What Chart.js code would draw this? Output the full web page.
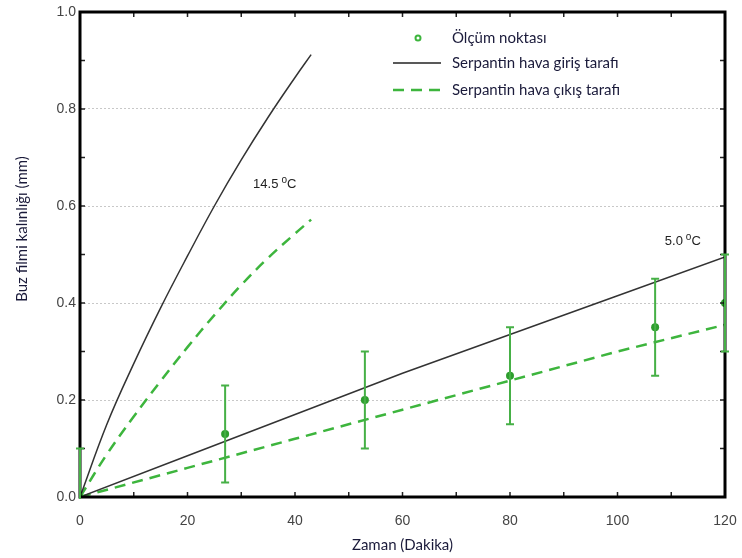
<!DOCTYPE html>
<html>
<head>
<meta charset="utf-8">
<script src="https://cdn.jsdelivr.net/npm/chart.js@4"></script>
<style>
  html, body { margin: 0; padding: 0; background: #fff; }
  #wrap { width: 742px; height: 558px; }
</style>
</head>
<body>
<div id="wrap"><canvas id="chart"></canvas></div>
<script>
// measured points with error bars
const measX = [0, 27, 53, 80, 107, 120];
const measY = [0, 0.13, 0.20, 0.25, 0.35, 0.40];
const measErr = [0.1, 0.1, 0.1, 0.1, 0.1, 0.1];

// 5.0 C model curves
const t5X = [0, 20, 40, 60, 80, 100, 120];
const t5In = [0, 0.085, 0.17, 0.255, 0.335, 0.415, 0.495];
const t5Out = [0, 0.06, 0.12, 0.18, 0.24, 0.30, 0.355];

// 14.5 C model curves
const t145X = [0, 5, 10, 15, 20, 25, 30, 35, 40, 43];
const t145In = [0, 0.15, 0.275, 0.39, 0.497, 0.60, 0.695, 0.783, 0.865, 0.912];
const t145Out = [0, 0.088, 0.166, 0.239, 0.309, 0.375, 0.437, 0.493, 0.543, 0.572];

const legendLabels = ['Ölçüm noktası', 'Serpantin hava giriş tarafı', 'Serpantin hava çıkış tarafı'];
const xTitle = 'Zaman (Dakika)';
const yTitle = 'Buz filmi kalınlığı (mm)';
const curveLabels = [
    {x: 32.2, y: 0.645, text: '14.5', unit: 'C'},
    {x: 108.8, y: 0.527, text: '5.0', unit: 'C'}
];

const GREEN = '#2e9e2e';
const GREEN_LINE = '#3db53d';
const TITLE_FONT = 'Lato, "Open Sans", sans-serif';
const TICK_FONT = '"Liberation Sans", Arial, sans-serif';

function pts(xs, ys) {
    return xs.map((x, i) => ({x: x, y: ys[i]}));
}

function drawErrorBars(chart) {
    const {ctx, chartArea, scales: {x, y}} = chart;
    ctx.save();
    ctx.beginPath();
    ctx.rect(0, chartArea.top - 2, chart.width, chartArea.height + 4);
    ctx.clip();
    ctx.strokeStyle = '#46b046';
    ctx.lineWidth = 2;
    measX.forEach((mx, i) => {
        const px = x.getPixelForValue(mx);
        const top = y.getPixelForValue(measY[i] + measErr[i]);
        const bot = y.getPixelForValue(measY[i] - measErr[i]);
        ctx.beginPath();
        ctx.moveTo(px, top); ctx.lineTo(px, bot);
        ctx.moveTo(px - 4, top); ctx.lineTo(px + 4, top);
        ctx.moveTo(px - 4, bot); ctx.lineTo(px + 4, bot);
        ctx.stroke();
    });
    ctx.restore();
}

const decorations = {
    id: 'decorations',
    afterDraw(chart) {
        const {ctx, chartArea: a, scales: {x, y}} = chart;
        ctx.save();

        // ticks pointing inward on all four sides
        ctx.strokeStyle = '#222';
        ctx.lineWidth = 1.5;
        for (let v = 10; v < 120; v += 10) {
            const px = x.getPixelForValue(v);
            ctx.beginPath();
            ctx.moveTo(px, a.bottom); ctx.lineTo(px, a.bottom - 5);
            ctx.moveTo(px, a.top); ctx.lineTo(px, a.top + 5);
            ctx.stroke();
        }
        for (let k = 1; k < 10; k++) {
            const py = y.getPixelForValue(k / 10);
            ctx.beginPath();
            ctx.moveTo(a.left, py); ctx.lineTo(a.left + 5, py);
            ctx.moveTo(a.right, py); ctx.lineTo(a.right - 5, py);
            ctx.stroke();
        }

        // heavy frame
        ctx.strokeStyle = '#000';
        ctx.lineWidth = 3;
        ctx.strokeRect(a.left, a.top, a.width, a.height);

        drawErrorBars(chart);

        // temperature labels
        ctx.fillStyle = '#222';
        ctx.textBaseline = 'middle';
        curveLabels.forEach(l => {
            let px = x.getPixelForValue(l.x);
            const py = y.getPixelForValue(l.y);
            ctx.font = '13px ' + TICK_FONT;
            ctx.textAlign = 'left';
            ctx.fillText(l.text, px, py);
            px += ctx.measureText(l.text).width + 3;
            ctx.font = '10px ' + TICK_FONT;
            ctx.fillText('o', px, py - 4);
            px += ctx.measureText('o').width;
            ctx.font = '13px ' + TICK_FONT;
            ctx.fillText(l.unit, px, py);
        });

        // legend
        const lx = a.left + 313, tx = a.left + 372;
        const rows = [38, 63, 90];
        ctx.font = '15px ' + TITLE_FONT;
        ctx.fillStyle = '#1a1a3a';
        ctx.textAlign = 'left';
        legendLabels.forEach((t, i) => ctx.fillText(t, tx, rows[i]));
        ctx.strokeStyle = GREEN_LINE;
        ctx.lineWidth = 2;
        ctx.beginPath();
        ctx.arc(lx + 25, rows[0], 2.5, 0, Math.PI * 2);
        ctx.stroke();
        ctx.strokeStyle = '#222';
        ctx.lineWidth = 1.5;
        ctx.beginPath();
        ctx.moveTo(lx, rows[1]); ctx.lineTo(lx + 48, rows[1]);
        ctx.stroke();
        ctx.strokeStyle = GREEN_LINE;
        ctx.lineWidth = 2.5;
        ctx.setLineDash([11, 7]);
        ctx.beginPath();
        ctx.moveTo(lx, rows[2]); ctx.lineTo(lx + 50, rows[2]);
        ctx.stroke();
        ctx.setLineDash([]);

        // axis titles
        ctx.font = '15px ' + TITLE_FONT;
        ctx.fillStyle = '#1a1a3a';
        ctx.textAlign = 'center';
        ctx.fillText(xTitle, (a.left + a.right) / 2, 545);
        ctx.translate(22, 229);
        ctx.rotate(-Math.PI / 2);
        ctx.fillText(yTitle, 0, 0);
        ctx.restore();
    }
};

new Chart(document.getElementById('chart'), {
    type: 'line',
    data: {
        datasets: [
            {
                label: legendLabels[0],
                data: pts(measX, measY),
                showLine: false,
                pointRadius: 4,
                pointBackgroundColor: GREEN,
                pointBorderColor: GREEN,
                pointBorderWidth: 0
            },
            {
                label: legendLabels[1],
                data: pts(t145X, t145In),
                borderColor: '#333',
                borderWidth: 1.5,
                pointRadius: 0,
                tension: 0.4
            },
            {
                label: legendLabels[2],
                data: pts(t145X, t145Out),
                borderColor: GREEN_LINE,
                borderWidth: 2.5,
                borderDash: [11, 7],
                pointRadius: 0,
                tension: 0.4
            },
            {
                label: legendLabels[1] + ' 5',
                data: pts(t5X, t5In),
                borderColor: '#333',
                borderWidth: 1.5,
                pointRadius: 0
            },
            {
                label: legendLabels[2] + ' 5',
                data: pts(t5X, t5Out),
                borderColor: GREEN_LINE,
                borderWidth: 2.5,
                borderDash: [11, 7],
                pointRadius: 0
            }
        ]
    },
    options: {
        responsive: true,
        maintainAspectRatio: false,
        animation: false,
        layout: {padding: {top: 12, right: 17, left: 0, bottom: 0}},
        plugins: {legend: {display: false}, tooltip: {enabled: false}},
        scales: {
            x: {
                type: 'linear',
                min: 0,
                max: 120,
                grid: {display: false},
                border: {display: false},
                ticks: {
                    stepSize: 20,
                    padding: 8,
                    color: '#444',
                    font: {family: TICK_FONT, size: 14}
                },
                afterFit(s) {
                    s.height = 61;
                    s.paddingLeft = 0;
                    s.paddingRight = 0;
                }
            },
            y: {
                min: 0,
                max: 1,
                border: {display: false, dash: [2, 2]},
                grid: {
                    drawTicks: false,
                    color: c => (c.tick && c.tick.value > 0.01 && c.tick.value < 0.99) ? '#c8c8c8' : 'rgba(0,0,0,0)'
                },
                ticks: {
                    stepSize: 0.2,
                    padding: 4,
                    color: '#444',
                    font: {family: TICK_FONT, size: 14},
                    callback: v => v.toFixed(1)
                },
                afterFit(s) {
                    s.width = 80;
                    s.paddingTop = 0;
                    s.paddingBottom = 0;
                }
            }
        }
    },
    plugins: [decorations]
});
</script>
</body>
</html>
